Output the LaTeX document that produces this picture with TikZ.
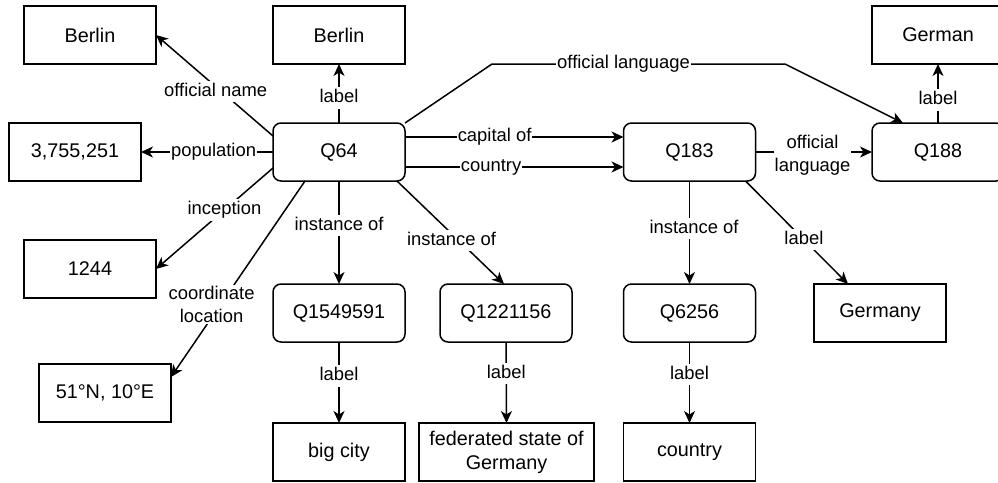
\documentclass[tikz,border=0pt]{standalone}
\usepackage{fontspec}
\setmainfont{Liberation Sans}
\usetikzlibrary{arrows.meta}
\begin{document}
\begin{tikzpicture}[x=1pt,y=-1pt,
  every node/.style={outer sep=0pt},
  valbox/.style={draw, line width=1.5pt, minimum width=132pt, minimum height=58pt,
    inner sep=2pt, align=center, font=\fontsize{19.8}{23.8}\selectfont},
  entbox/.style={valbox, rounded corners=8pt},
  link/.style={draw, line width=1.5pt, -{Stealth[length=12pt,width=11pt,inset=3.5pt]}},
  elbl/.style={fill=white, inner xsep=1pt, inner ysep=2pt, text height=13.5pt,
    text depth=4pt, font=\fontsize{18.4}{22}\selectfont},
  elbltwo/.style={fill=white, inner xsep=1pt, inner ysep=1pt, align=center,
    font=\fontsize{18.4}{23}\selectfont}
]
\useasboundingbox (0,0) rectangle (998,482);
\clip (0,0) rectangle (998,482);

% value boxes and entity boxes
\node[valbox] (offname)  at (90,35)    {Berlin};
\node[valbox] (berlin)   at (339,35)   {Berlin};
\node[valbox] (pop)      at (75,152)   {3,755,251};
\node[valbox] (incep)    at (90,269)   {1244};
\node[valbox] (coord)    at (105,393)  {51°N, 10°E};
\node[entbox] (q64)      at (339,152)  {Q64};
\node[entbox] (q1549591) at (339,313)  {Q1549591};
\node[valbox] (bigcity)  at (339,452)  {big city};
\node[entbox] (q1221156) at (506,313)  {Q1221156};
\node[valbox, minimum width=175pt] (fedstate) at (506.5,452) {federated state of\\Germany};
\node[entbox] (q183)     at (689.5,152) {Q183};
\node[entbox] (q6256)    at (689.5,313) {Q6256};
\node[valbox] (country)  at (689.5,452) {country};
\node[valbox] (germany)  at (880,313)  {Germany};
\node[entbox] (q188)     at (938,152)  {Q188};
\node[valbox] (german)   at (938,35)   {German};

% bends of the long "official language" connector
\coordinate (bendA) at (492,64);
\coordinate (bendB) at (785,64);

% connectors out of Q64
\draw[link] ([yshift=16pt]q64.west) -- node[elbl,pos=0.49,yshift=-5pt]{official name} (offname.east);
\draw[link] (q64.north) -- node[elbl,pos=0.42]{label} (berlin.south);
\draw[link] (q64.west) -- node[elbl,pos=0.45]{population} (pop.east);
\draw[link] ([yshift=-16pt]q64.west) -- node[elbl,pos=0.415]{inception} (incep.east);
\draw[link] ([xshift=-34pt]q64.south) -- node[elbltwo,pos=0.63,xshift=-9pt]{coordinate\\location} ([yshift=16pt]coord.east);
\draw[link] (q64.south) -- node[elbl,pos=0.43]{instance of} (q1549591.north);
\draw[link] ([xshift=58pt]q64.south) -- node[elbl,pos=0.51,yshift=-7pt]{instance of} ([xshift=-2pt]q1221156.north);
\draw[link] ([yshift=15pt]q64.east) -- node[elbl,pos=0.41]{capital of} ([yshift=15pt]q183.west);
\draw[link] ([yshift=-15pt]q64.east) -- node[elbl,pos=0.394]{country} ([yshift=-15pt]q183.west);
\draw[link] (q64.north east) -- (bendA) -- node[elbl,pos=0.449]{official language} (bendB) -- ([xshift=-35pt]q188.north);

% connectors out of Q183 and Q188
\draw[link] (q183.east) -- node[elbltwo,pos=0.49,yshift=-3pt]{official\\language} (q188.west);
\draw[link] (q188.north) -- node[elbl,pos=0.39]{label} (german.south);
\draw[link] (q183.south) -- node[elbl,pos=0.46,xshift=4.5pt]{instance of} (q6256.north);
\draw[link] ([xshift=56pt]q183.south) -- node[elbl,pos=0.57]{label} ([xshift=-32pt]germany.north);

% label connectors of the lower entities
\draw[link] (q6256.south) -- node[elbl,pos=0.4]{label} (country.north);
\draw[link] (q1549591.south) -- node[elbl,pos=0.42]{label} (bigcity.north);
\draw[link] (q1221156.south) -- node[elbl,pos=0.39]{label} (fedstate.north);
\end{tikzpicture}
\end{document}
